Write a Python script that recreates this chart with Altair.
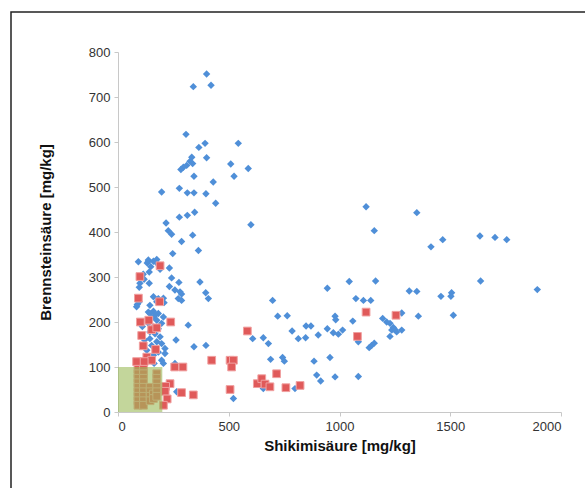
import altair as alt
import pandas as pd

# Blue diamonds (series 1)
blue_x = [400, 420, 340, 307, 393, 543, 365, 333, 400, 325, 337, 310, 295, 284, 509, 588, 343, 524, 430, 277,
          197, 313, 343, 397, 441, 346, 313, 277, 600, 217, 227, 242, 337, 287, 363, 247, 175, 137,
          232, 242, 275, 232, 257, 280, 272, 287, 287, 370, 396, 408, 317, 262, 343, 397, 212, 212, 257, 265, 521,
          92, 132, 148, 141, 114, 177, 190, 137, 160, 99, 96, 141, 118,
          160, 182, 205, 175, 208, 144, 87, 96, 137, 160, 182, 205, 84, 144, 167, 152, 175, 137, 197, 160, 182,
          144, 167, 190, 144, 175, 197, 152, 130, 182, 160, 197, 205, 163, 120, 110,
          608, 656, 679, 698, 689, 721, 764, 743, 751, 786, 814, 847, 849, 871, 885, 897, 915, 904, 945, 945,
          957, 972, 980, 983, 980, 995, 1014, 1044, 1060, 1074, 1085, 1085, 1108, 1120, 1134, 1141, 1145, 1157,
          1157, 1163, 1195, 1213, 1228, 1228, 1236, 1243, 1251, 1258, 1281, 1281, 1315, 1349, 1349, 1356, 1413,
          1458, 1466, 1503, 1506, 1514, 1634, 1637, 1702, 1755, 1893, 656, 799]
blue_y = [751, 726, 723, 617, 597, 597, 588, 566, 565, 557, 552, 548, 544, 539, 551, 541, 524, 524, 511, 497,
          489, 487, 487, 485, 464, 444, 437, 433, 416, 420, 403, 395, 393, 379, 359, 352, 339, 338,
          320, 298, 288, 279, 271, 267, 252, 262, 248, 289, 265, 252, 193, 160, 145, 148, 141, 130, 108, 45, 30,
          334, 331, 323, 311, 306, 330, 317, 335, 335, 286, 277, 286, 295,
          256, 252, 253, 245, 243, 237, 239, 245, 222, 224, 219, 211, 234, 219, 215, 208, 204, 197, 197, 189, 185,
          178, 174, 167, 163, 156, 152, 148, 137, 133, 126, 115, 108, 108, 160, 190,
          163, 165, 152, 248, 117, 213, 214, 121, 113, 180, 163, 165, 191, 191, 113, 82, 69, 171, 185, 275,
          121, 176, 213, 205, 78, 173, 182, 290, 202, 252, 156, 79, 248, 456, 143, 248, 148, 153,
          403, 291, 208, 200, 197, 168, 182, 188, 183, 178, 182, 220, 269, 268, 443, 213, 367,
          257, 383, 257, 265, 215, 391, 291, 388, 383, 272, 52, 52]

# Red squares (series 2)
red_x = [190, 99, 92, 188, 101, 139, 152, 175, 238, 107, 114, 170, 130, 152, 84, 118, 256, 293, 423, 506,
         521, 513, 584, 235, 215, 213, 222, 287, 340, 506, 629, 649, 664, 686, 716, 758, 822, 1081, 1120, 1255, 205,
         90, 90, 90, 90, 90, 90, 90, 90, 90,
         115, 115, 115, 115, 115, 115, 115, 115, 115,
         145, 145, 145, 145, 160, 160,
         175, 175, 175, 175, 175, 175]
red_y = [325, 301, 253, 245, 200, 204, 183, 187, 200, 170, 147, 139, 122, 115, 112, 112, 100, 100, 115, 115,
         115, 100, 180, 63, 57, 46, 29, 43, 38, 50, 63, 74, 62, 56, 85, 54, 59, 168, 222, 215, 15,
         95, 85, 75, 65, 55, 45, 35, 25, 15,
         95, 85, 75, 65, 55, 45, 35, 25, 15,
         55, 45, 35, 25, 40, 30,
         85, 75, 65, 55, 45, 35]

# Highlighted zone
zone_x = [0, 200]
zone_y = [0, 100]

x_ticks = [0, 500, 1000, 1500, 2000]
y_ticks = [0, 100, 200, 300, 400, 500, 600, 700, 800]

blue = pd.DataFrame({"x": blue_x, "y": blue_y})
red = pd.DataFrame({"x": red_x, "y": red_y})
zone = pd.DataFrame({"x": [zone_x[0]], "x2": [zone_x[1]], "y": [zone_y[0]], "y2": [zone_y[1]]})

title_font = "Liberation Sans"

xscale = alt.Scale(domain=[0, 2000], nice=False)
yscale = alt.Scale(domain=[0, 800], nice=False)

xenc = alt.X("x:Q", scale=xscale,
             axis=alt.Axis(values=x_ticks, format="d", title="Shikimisäure [mg/kg]", titlePadding=5))
yenc = alt.Y("y:Q", scale=yscale,
             axis=alt.Axis(values=y_ticks, format="d", title="Brennsteinsäure [mg/kg]",
                           titleX=-73, titleY=180, titleBaseline="middle", titleAlign="center"))

blue_layer = alt.Chart(blue).mark_point(shape="diamond", filled=True, size=55, color="#4f8fd8",
                                        opacity=1).encode(x=xenc, y=yenc)
red_layer = alt.Chart(red).mark_point(shape="square", filled=True, size=60, color="#e05a5a",
                                      stroke="#f0a0a0", strokeWidth=1, opacity=1).encode(x="x:Q", y="y:Q")
zone_layer = alt.Chart(zone).mark_rect(color="#9bbb59", opacity=0.6).encode(
    x="x:Q", x2="x2:Q", y="y:Q", y2="y2:Q")
frame = alt.Chart(zone).mark_rect(fill=None, stroke="#222222", strokeWidth=1.5).encode(
    x=alt.value(-107), x2=alt.value(480), y=alt.value(-40), y2=alt.value(500))

chart = alt.layer(blue_layer, red_layer, zone_layer, frame).properties(
    width=443, height=360,
    autosize=alt.AutoSizeParams(type="none"),
    padding={"left": 118, "top": 52, "right": 24, "bottom": 76},
    background="white",
).configure_view(stroke=None).configure_axis(
    grid=False,
    domainColor="#c8c8c8",
    tickColor="#c8c8c8",
    tickSize=4,
    labelFont="Liberation Sans",
    labelFontSize=13,
    labelColor="#333333",
    labelPadding=4,
    titleFont=title_font,
    titleFontSize=15,
    titleFontWeight="bold",
    titleColor="#111111",
)

chart.save("out.html", embed_options={"renderer": "svg", "actions": False})
